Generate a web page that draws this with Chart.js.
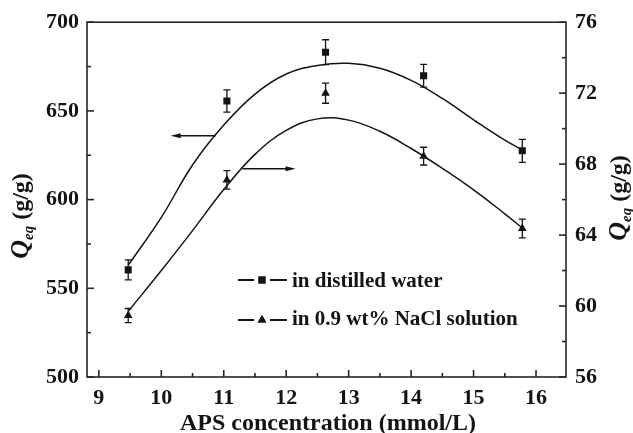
<!DOCTYPE html>
<html>
<head>
<meta charset="utf-8">
<title>Swelling capacity vs APS concentration</title>
<script src="https://cdn.jsdelivr.net/npm/chart.js@4.4.1/dist/chart.umd.min.js"></script>
<style>
    html, body { margin: 0; padding: 0; background: #fff; }
    #wrap { width: 633px; height: 433px; }
</style>
</head>
<body>
<div id="wrap"><canvas id="chart" width="633" height="433"></canvas></div>
<script>
(function () {
    'use strict';

    // ── Measured points ─────────────────────────────────────────
    const APS          = [9.47, 11.05, 12.63, 14.2, 15.78];
    const Q_WATER      = [560.4, 655.6, 683.1, 669.8, 627.5];
    const Q_WATER_ERR  = [5.6, 6.3, 7.0, 6.4, 6.5];
    const Q_SALINE     = [59.46, 67.11, 72.0, 68.45, 64.37];
    const Q_SALINE_ERR = [0.4, 0.52, 0.57, 0.5, 0.53];

    // ── Fitted curves (sampled) ─────────────────────────────────
    const FIT_X        = [9.47, 10.0, 10.5, 11.0, 11.5, 12.0, 12.5, 13.0, 13.5, 14.0, 14.5, 15.0, 15.5, 15.78];
    const FIT_WATER_Y  = [563, 590, 619.5, 642, 659.5, 670.8, 675.6, 676.8, 674, 667.2, 657, 645, 633.5, 628];
    const FIT_SALINE_Y = [59.7, 62.0, 64.25, 66.57, 68.55, 69.9, 70.55, 70.48, 69.85, 68.88, 67.76, 66.55, 65.2, 64.4];

    // ── Axis ticks ──────────────────────────────────────────────
    const X_TICKS   = [9, 10, 11, 12, 13, 14, 15, 16];
    const X_MINOR   = [9.5, 10.5, 11.5, 12.5, 13.5, 14.5, 15.5];
    const Y_TICKS   = [500, 550, 600, 650, 700];
    const Y_MINOR   = [525, 575, 625, 675];
    const Y2_TICKS  = [56, 60, 64, 68, 72, 76];
    const Y2_MINOR  = [58, 62, 66, 70, 74];

    const SERIES_LABELS = ['in distilled water', 'in 0.9 wt% NaCl solution'];

    // arrows telling which axis each curve belongs to
    const ARROWS = [
        { axis: 'y',  from: [10.87, 636],   to: [10.15, 636] },
        { axis: 'y1', from: [11.3, 67.74],  to: [12.15, 67.74] },
    ];

    const INK   = '#141414';
    const AXIS  = '#262626';
    const SERIF = '"Liberation Serif", "Times New Roman", serif';
    const TICK_FONT = { family: SERIF, size: 22, weight: 'bold' };

    const pts = (xs, ys) => xs.map((x, i) => ({ x, y: ys[i] }));
    const fixedTicks = list => scale => { scale.ticks = list.map(v => ({ value: v })); };

    // ── Plugins ─────────────────────────────────────────────────

    const errorBars = {
        id: 'errorBars',
        beforeDatasetsDraw(chart) {
            const { ctx, scales } = chart;
            const sets = [
                { scale: scales.y,  vals: Q_WATER,  errs: Q_WATER_ERR },
                { scale: scales.y1, vals: Q_SALINE, errs: Q_SALINE_ERR },
            ];
            ctx.save();
            ctx.strokeStyle = INK;
            ctx.lineWidth = 1.3;
            sets.forEach(s => {
                APS.forEach((xv, i) => {
                    const x = scales.x.getPixelForValue(xv);
                    const y0 = s.scale.getPixelForValue(s.vals[i] + s.errs[i]);
                    const y1 = s.scale.getPixelForValue(s.vals[i] - s.errs[i]);
                    ctx.beginPath();
                    ctx.moveTo(x, y0); ctx.lineTo(x, y1);
                    ctx.moveTo(x - 3.5, y0); ctx.lineTo(x + 3.5, y0);
                    ctx.moveTo(x - 3.5, y1); ctx.lineTo(x + 3.5, y1);
                    ctx.stroke();
                });
            });
            ctx.restore();
        },
    };

    const frame = {
        id: 'frame',
        afterDatasetsDraw(chart) {
            const { ctx, chartArea: a, scales } = chart;
            ctx.save();
            ctx.strokeStyle = AXIS;
            ctx.lineWidth = 1.6;
            ctx.strokeRect(a.left, a.top, a.right - a.left, a.bottom - a.top);

            const marks = (scale, values, len) => {
                values.forEach(v => {
                    const p = scale.getPixelForValue(v);
                    ctx.beginPath();
                    if (scale.axis === 'x') {
                        ctx.moveTo(p, a.bottom); ctx.lineTo(p, a.bottom - len);
                    } else if (scale.position === 'left') {
                        ctx.moveTo(a.left, p); ctx.lineTo(a.left + len, p);
                    } else {
                        ctx.moveTo(a.right, p); ctx.lineTo(a.right - len, p);
                    }
                    ctx.stroke();
                });
            };
            marks(scales.x, X_TICKS, 7);
            marks(scales.x, X_MINOR, 4);
            marks(scales.y, Y_TICKS, 7);
            marks(scales.y, Y_MINOR, 4);
            marks(scales.y1, Y2_TICKS, 7);
            marks(scales.y1, Y2_MINOR, 4);

            // axis arrows
            ctx.strokeStyle = INK;
            ctx.fillStyle = INK;
            ctx.lineWidth = 1.3;
            ARROWS.forEach(ar => {
                const ys = scales[ar.axis];
                const x0 = scales.x.getPixelForValue(ar.from[0]);
                const x1 = scales.x.getPixelForValue(ar.to[0]);
                const y = ys.getPixelForValue(ar.from[1]);
                const dir = Math.sign(x1 - x0);
                ctx.beginPath();
                ctx.moveTo(x0, y); ctx.lineTo(x1 - dir * 8, y);
                ctx.stroke();
                ctx.beginPath();
                ctx.moveTo(x1, y);
                ctx.lineTo(x1 - dir * 10, y - 2.5);
                ctx.lineTo(x1 - dir * 10, y + 2.5);
                ctx.closePath();
                ctx.fill();
            });
            ctx.restore();
        },
    };

    function drawQTitle(ctx, x, y) {
        // rotated "Q_eq (g/g)", centred on (x, y), baseline toward +x
        const parts = [
            { t: 'Q',      font: 'italic bold 26px ' + SERIF, dy: 0 },
            { t: 'eq',     font: 'italic bold 15px ' + SERIF, dy: 5 },
            { t: ' (g/g)', font: 'bold 24px ' + SERIF, dy: 0 },
        ];
        ctx.save();
        ctx.translate(x, y);
        ctx.rotate(-Math.PI / 2);
        ctx.fillStyle = INK;
        ctx.textBaseline = 'alphabetic';
        ctx.textAlign = 'left';
        let total = 0;
        parts.forEach(p => { ctx.font = p.font; p.w = ctx.measureText(p.t).width; total += p.w; });
        let cx = -total / 2;
        parts.forEach(p => {
            ctx.font = p.font;
            ctx.fillText(p.t, cx, p.dy);
            cx += p.w;
        });
        ctx.restore();
    }

    const labels = {
        id: 'labels',
        afterDraw(chart) {
            const { ctx } = chart;
            ctx.save();
            ctx.fillStyle = INK;

            // x title
            ctx.font = 'bold 24px ' + SERIF;
            ctx.textAlign = 'center';
            ctx.textBaseline = 'alphabetic';
            ctx.fillText('APS concentration (mmol/L)', 328, 430);

            drawQTitle(ctx, 28, 216);
            drawQTitle(ctx, 626, 198);

            // legend
            const rows = [
                { y: 280, base: 287, style: 'rect' },
                { y: 320, base: 324.5, style: 'triangle' },
            ];
            ctx.strokeStyle = INK;
            ctx.lineWidth = 2;
            rows.forEach((r, i) => {
                ctx.beginPath();
                ctx.moveTo(238, r.y); ctx.lineTo(254, r.y);
                ctx.moveTo(270, r.y); ctx.lineTo(287, r.y);
                ctx.stroke();
                Chart.helpers.drawPoint(ctx, { pointStyle: r.style, radius: 5, borderWidth: 0 }, 262, r.y);
                ctx.fill();
                ctx.font = 'bold 21px ' + SERIF;
                ctx.textAlign = 'left';
                ctx.fillText(SERIES_LABELS[i], 292, r.base);
            });
            ctx.restore();
        },
    };

    // ── Chart ───────────────────────────────────────────────────

    const axisBase = {
        type: 'linear',
        grid: { display: false, drawTicks: false },
        border: { display: false },
        ticks: { font: TICK_FONT, color: INK },
    };

    const fitLine = (data, axis) => ({
        data,
        yAxisID: axis,
        showLine: true,
        pointRadius: 0,
        borderColor: INK,
        borderWidth: 1.5,
        tension: 0.4,
    });

    new Chart(document.getElementById('chart'), {
        type: 'scatter',
        data: {
            datasets: [
                {
                    label: SERIES_LABELS[0],
                    data: pts(APS, Q_WATER),
                    yAxisID: 'y',
                    pointStyle: 'rect',
                    pointRadius: 5,
                    backgroundColor: INK,
                    borderColor: INK,
                    borderWidth: 0,
                },
                {
                    label: SERIES_LABELS[1],
                    data: pts(APS, Q_SALINE),
                    yAxisID: 'y1',
                    pointStyle: 'triangle',
                    pointRadius: 5,
                    backgroundColor: INK,
                    borderColor: INK,
                    borderWidth: 0,
                },
                fitLine(pts(FIT_X, FIT_WATER_Y), 'y'),
                fitLine(pts(FIT_X, FIT_SALINE_Y), 'y1'),
            ],
        },
        options: {
            responsive: false,
            animation: false,
            events: [],
            layout: { padding: { top: 22, left: 0, right: 0, bottom: 0 } },
            plugins: { legend: { display: false }, tooltip: { enabled: false } },
            scales: {
                x: {
                    ...axisBase,
                    position: 'bottom',
                    min: 8.81,
                    max: 16.48,
                    ticks: { ...axisBase.ticks, padding: 8, maxRotation: 0, autoSkip: false },
                    afterBuildTicks: fixedTicks(X_TICKS),
                    afterFit: s => { s.height = 56; },
                },
                y: {
                    ...axisBase,
                    position: 'left',
                    min: 500,
                    max: 700,
                    ticks: { ...axisBase.ticks, padding: 8 },
                    afterBuildTicks: fixedTicks(Y_TICKS),
                    afterFit: s => { s.width = 87; },
                },
                y1: {
                    ...axisBase,
                    position: 'right',
                    min: 56,
                    max: 76,
                    ticks: { ...axisBase.ticks, padding: 9 },
                    afterBuildTicks: fixedTicks(Y2_TICKS),
                    afterFit: s => { s.width = 67; },
                },
            },
        },
        plugins: [errorBars, frame, labels],
    });
})();
</script>
</body>
</html>
